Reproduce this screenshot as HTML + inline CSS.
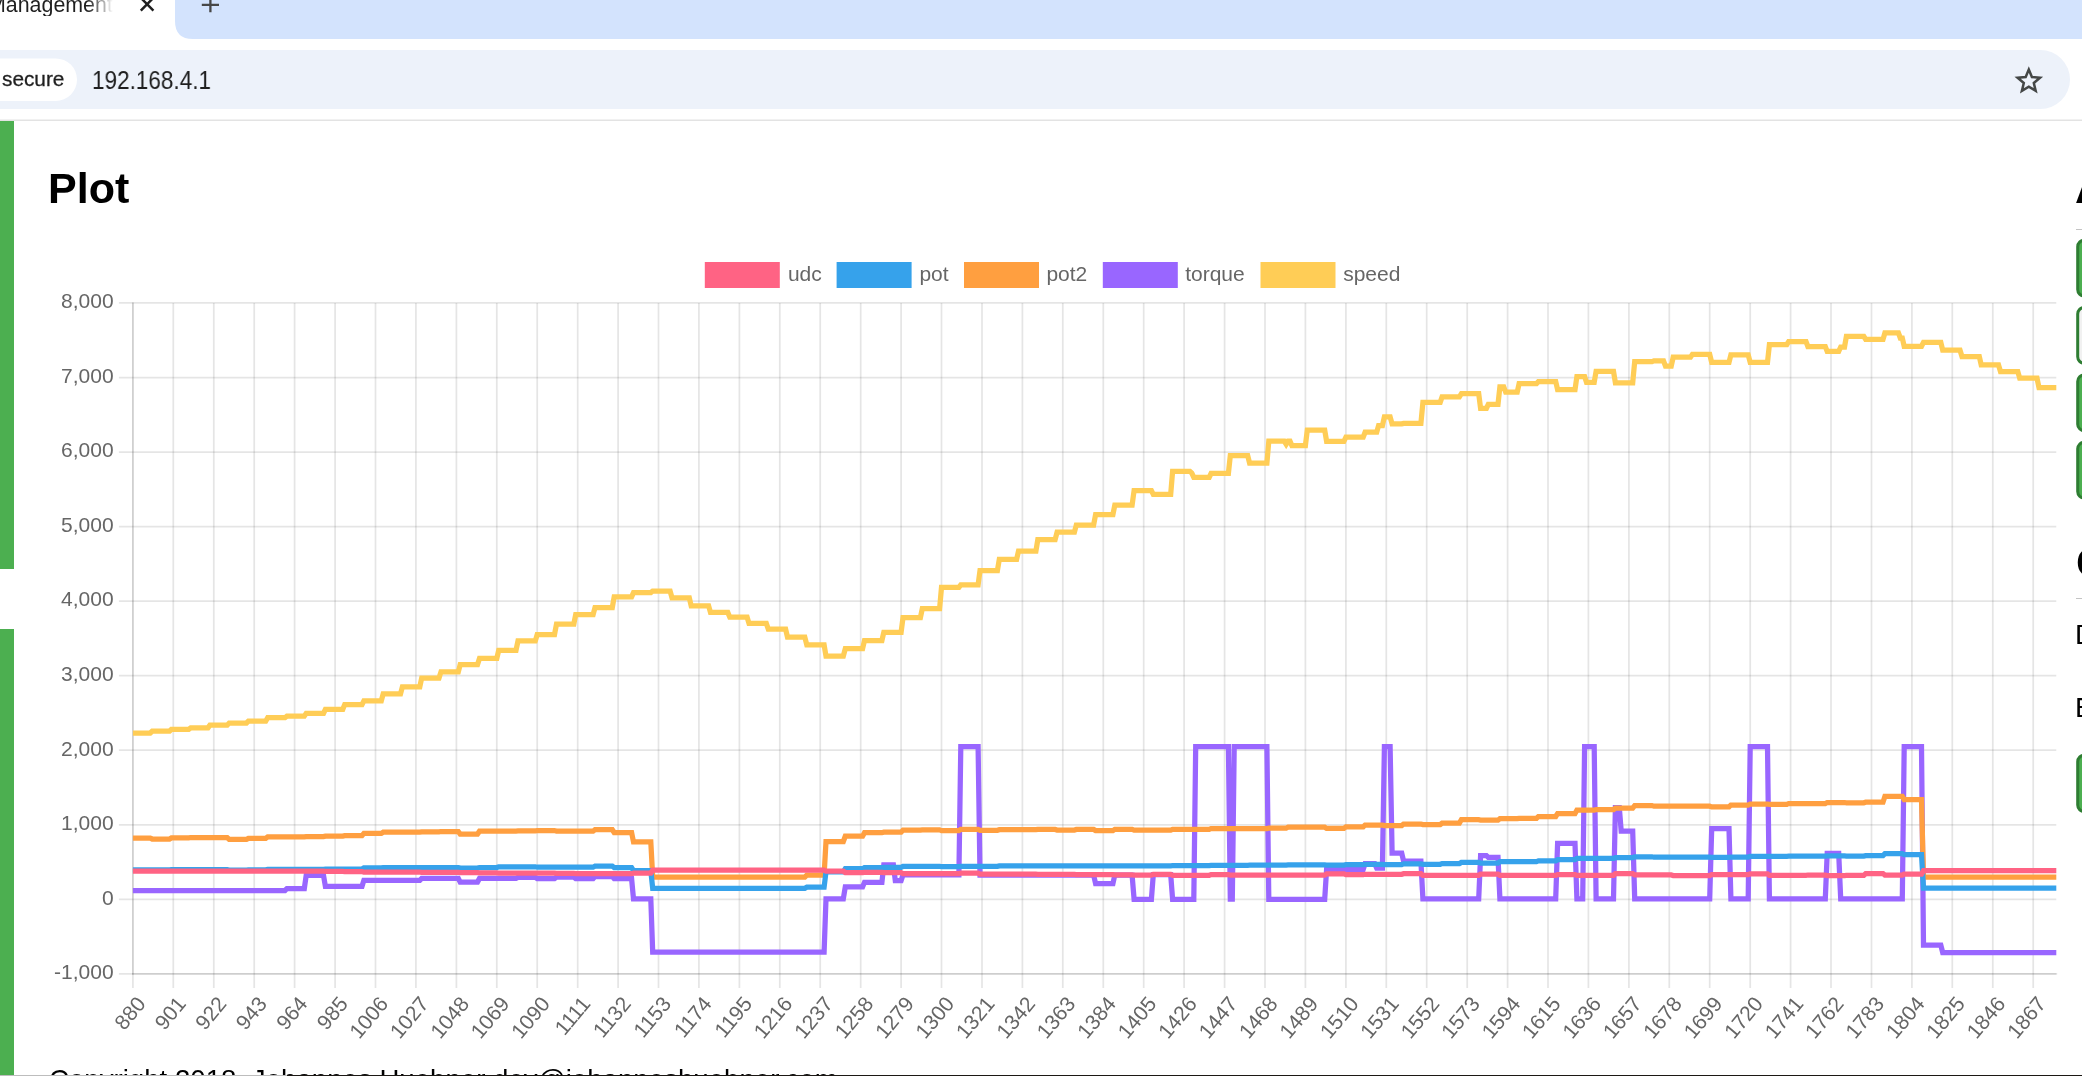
<!DOCTYPE html>
<html><head><meta charset="utf-8"><title>Management</title>
<style>
html,body{margin:0;padding:0}
body{width:2082px;height:1076px;overflow:hidden;position:relative;background:#fff;font-family:"Liberation Sans",sans-serif;color:#000}
.abs{position:absolute}
.t{position:absolute;white-space:nowrap;line-height:1;will-change:transform}
.btn{position:absolute;left:2076.2px;width:40px;border:3px solid #2e7d32;border-radius:9px;background:#4caf50;box-sizing:border-box}
</style></head>
<body>
<!-- browser chrome -->
<svg class="abs" style="left:0;top:0" width="2082" height="121" viewBox="0 0 2082 121">
<path d="M175,0 V21 Q175,39 193,39 H2082 V0 Z" fill="#d3e3fd"/>
<rect x="-60" y="50" width="2130" height="59" rx="29.5" fill="#edf2fa"/>
<rect x="-60" y="58.4" width="137" height="42.5" rx="21.25" fill="#fff"/>
<path d="M140.8,-2.2 L153.4,10.6 M153.4,-2.2 L140.8,10.6" stroke="#1f1f1f" stroke-width="2.5" fill="none"/>
<path d="M201.8,4.8 H219 M210.4,-4 V12.3" stroke="#474747" stroke-width="2.3" fill="none"/>
<path d="M2028.8,69.6 L2031.9,77.1 L2040.0,77.7 L2033.8,83.0 L2035.7,90.9 L2028.8,86.6 L2021.9,90.9 L2023.8,83.0 L2017.6,77.7 L2025.7,77.1 Z" stroke="#444746" stroke-width="2.5" fill="none" stroke-linejoin="miter"/>
<rect x="0" y="119.6" width="2082" height="1.2" fill="#dcdcdc"/>
</svg>
<div class="t" style="left:-12.3px;top:-4.9px;font-size:21.4px;color:#1f1f1f;width:125px;overflow:hidden;-webkit-mask-image:linear-gradient(90deg,#000 80%,transparent 100%);mask-image:linear-gradient(90deg,#000 80%,transparent 100%)">Management</div>
<div class="t" style="left:1.8px;top:68.6px;font-size:20.8px;color:#1f1f1f;-webkit-text-stroke:0.3px #1f1f1f">secure</div>
<div class="t" style="left:92.4px;top:67.3px;font-size:26.5px;color:#1f1f1f;transform:scaleX(0.85);transform-origin:0 0">192.168.4.1</div>

<!-- page -->
<div class="abs" style="left:0;top:120.6px;width:14px;height:448.2px;background:#4caf50"></div>
<div class="abs" style="left:0;top:629px;width:14px;height:446px;background:#4caf50"></div>
<div class="t" style="left:48.4px;top:167.2px;font-size:43px;font-weight:bold">Plot</div>

<!-- right column (cut off) -->
<div class="t" style="left:2075.2px;top:167.2px;font-size:43px;font-weight:bold">Actions</div>
<div class="abs" style="left:2076px;top:228.7px;width:10px;height:1.2px;background:#c4c4c4"></div>
<div class="t" style="left:2076.2px;top:540.8px;font-size:43px;font-weight:bold">Commands</div>
<div class="abs" style="left:2076px;top:597.9px;width:10px;height:1.2px;background:#c4c4c4"></div>
<div class="t" style="left:2075.0px;top:621.1px;font-size:28px">Display</div>
<div class="t" style="left:2075.0px;top:693.8px;font-size:28px">Error</div>

<svg width="2082" height="1076" viewBox="0 0 2082 1076" style="position:absolute;left:0;top:0;will-change:transform" font-family="Liberation Sans, sans-serif">
<g stroke="rgba(0,0,0,0.1)" stroke-width="1.75" fill="none"><path d="M118.9,302.9 H2056.3"/><path d="M118.9,377.5 H2056.3"/><path d="M118.9,452 H2056.3"/><path d="M118.9,526.6 H2056.3"/><path d="M118.9,601.1 H2056.3"/><path d="M118.9,675.7 H2056.3"/><path d="M118.9,750.2 H2056.3"/><path d="M118.9,824.8 H2056.3"/><path d="M118.9,899.3 H2056.3"/><path d="M118.9,973.9 H2056.3"/><path d="M132.9,302.9 V987.9"/><path d="M173.3,302.9 V987.9"/><path d="M213.8,302.9 V987.9"/><path d="M254.2,302.9 V987.9"/><path d="M294.6,302.9 V987.9"/><path d="M335.1,302.9 V987.9"/><path d="M375.5,302.9 V987.9"/><path d="M415.9,302.9 V987.9"/><path d="M456.4,302.9 V987.9"/><path d="M496.8,302.9 V987.9"/><path d="M537.2,302.9 V987.9"/><path d="M577.7,302.9 V987.9"/><path d="M618.1,302.9 V987.9"/><path d="M658.5,302.9 V987.9"/><path d="M698.9,302.9 V987.9"/><path d="M739.4,302.9 V987.9"/><path d="M779.8,302.9 V987.9"/><path d="M820.2,302.9 V987.9"/><path d="M860.7,302.9 V987.9"/><path d="M901.1,302.9 V987.9"/><path d="M941.5,302.9 V987.9"/><path d="M982,302.9 V987.9"/><path d="M1022.4,302.9 V987.9"/><path d="M1062.8,302.9 V987.9"/><path d="M1103.3,302.9 V987.9"/><path d="M1143.7,302.9 V987.9"/><path d="M1184.1,302.9 V987.9"/><path d="M1224.6,302.9 V987.9"/><path d="M1265,302.9 V987.9"/><path d="M1305.4,302.9 V987.9"/><path d="M1345.9,302.9 V987.9"/><path d="M1386.3,302.9 V987.9"/><path d="M1426.7,302.9 V987.9"/><path d="M1467.2,302.9 V987.9"/><path d="M1507.6,302.9 V987.9"/><path d="M1548,302.9 V987.9"/><path d="M1588.4,302.9 V987.9"/><path d="M1628.9,302.9 V987.9"/><path d="M1669.3,302.9 V987.9"/><path d="M1709.7,302.9 V987.9"/><path d="M1750.2,302.9 V987.9"/><path d="M1790.6,302.9 V987.9"/><path d="M1831,302.9 V987.9"/><path d="M1871.5,302.9 V987.9"/><path d="M1911.9,302.9 V987.9"/><path d="M1952.3,302.9 V987.9"/><path d="M1992.8,302.9 V987.9"/><path d="M2033.2,302.9 V987.9"/><path d="M132.9,302 V974.8"/><path d="M132,973.9 H2057.2"/></g>
<g>
<polyline points="132.9,733 150.2,733 152.2,731.2 169.5,731.2 171.4,729.3 188.7,729.3 190.7,727.8 208,727.8 209.9,725.2 227.2,725.2 229.2,723 246.5,723 248.4,721.2 265.7,721.2 267.7,717.7 285,717.7 286.9,716.2 304.3,716.2 306.2,713.4 323.5,713.4 325.4,709.3 342.8,709.3 344.7,704.6 362,704.6 363.9,700.8 381.3,700.8 383.2,693.9 400.5,693.9 402.4,686.8 419.8,686.8 421.7,678 439,678 441,671.8 458.3,671.8 460.2,664.5 477.5,664.5 479.5,658.4 496.8,658.4 498.7,650.3 516,650.3 518,640.9 535.3,640.9 537.2,634.6 554.5,634.6 556.5,624.1 573.8,624.1 575.7,614.7 593.1,614.7 595,607.5 612.3,607.5 614.2,596.9 631.6,596.9 633.5,592.6 650.8,592.6 652.7,591 670.1,591 672,597.8 689.3,597.8 691.2,605.8 708.6,605.8 710.5,612.4 727.8,612.4 729.8,617.2 747.1,617.2 749,623.4 766.3,623.4 768.3,629.1 785.6,629.1 787.5,637.2 804.8,637.2 806.8,644.9 824.1,644.9 826,656.2 843.3,656.2 845.3,648.7 862.6,648.7 864.5,640.5 881.9,640.5 883.8,632.4 901.1,632.4 903,617.6 920.4,617.6 922.3,608.7 939.6,608.7 941.5,587.4 958.9,587.4 960.8,584.9 978.1,584.9 980,570.6 997.4,570.6 999.3,559.3 1016.6,559.3 1018.5,551.2 1035.9,551.2 1037.8,539.7 1055.1,539.7 1057.1,532.1 1074.4,532.1 1076.3,525 1093.6,525 1095.6,514.5 1112.9,514.5 1114.8,505.2 1132.1,505.2 1134.1,490.5 1151.4,490.5 1153.3,494.3 1170.7,494.3 1172.6,471.4 1189.9,471.4 1191.8,473.1 1191.8,473.1 1193.8,477.4 1209.2,477.4 1211.1,473.4 1228.4,473.4 1230.3,455.6 1247.7,455.6 1249.6,463.1 1266.9,463.1 1268.8,441 1284.2,441 1286.2,444.2 1286.2,444.2 1288.1,441.2 1290,441.2 1291.9,445.6 1305.4,445.6 1307.3,430 1324.7,430 1326.6,441.3 1343.9,441.3 1345.9,437.2 1363.2,437.2 1365.1,432.2 1376.7,432.2 1378.6,425.5 1382.4,425.5 1384.4,416.8 1390.1,416.8 1392.1,423.9 1401.7,423.9 1403.6,423.4 1420.9,423.4 1422.9,402.4 1440.2,402.4 1442.1,396.8 1459.4,396.8 1461.4,393.7 1478.7,393.7 1480.6,408.4 1486.4,408.4 1488.3,404.3 1498,404.3 1499.9,386.8 1503.7,386.8 1505.7,392.2 1517.2,392.2 1519.1,383.7 1536.5,383.7 1538.4,381.5 1555.7,381.5 1557.6,389.7 1575,389.7 1576.9,376.5 1584.6,376.5 1586.5,382.3 1594.2,382.3 1596.1,371.4 1613.5,371.4 1615.4,382.8 1632.7,382.8 1634.7,361.6 1652,361.6 1653.9,360.9 1663.5,360.9 1665.5,366.2 1671.2,366.2 1673.2,357.1 1690.5,357.1 1692.4,354.3 1709.7,354.3 1711.7,362.4 1729,362.4 1730.9,354.9 1748.2,354.9 1750.2,362.4 1767.5,362.4 1769.4,344.7 1786.8,344.7 1788.7,341.5 1806,341.5 1807.9,346.5 1825.3,346.5 1827.2,351.4 1838.7,351.4 1840.7,347 1844.5,347 1846.4,336.3 1863.8,336.3 1865.7,339.4 1883,339.4 1884.9,332.9 1898.4,332.9 1900.3,338 1902.3,338 1904.2,346.3 1921.5,346.3 1923.5,342.4 1940.8,342.4 1942.7,350.1 1960,350.1 1962,356.5 1979.3,356.5 1981.2,364.9 1998.5,364.9 2000.5,371.5 2017.8,371.5 2019.7,378.2 2037,378.2 2039,387.6 2056.3,387.6" fill="none" stroke="#ffcd56" stroke-width="5.25" stroke-linejoin="miter" stroke-miterlimit="10" stroke-linecap="butt"/>
<polyline points="132.9,890.5 285,890.5 286.9,888.7 304.3,888.7 306.2,875.3 323.5,875.3 325.4,886.4 362,886.4 363.9,880.3 419.8,880.3 421.7,878.4 458.3,878.4 460.2,882.1 477.5,882.1 479.5,878.4 516,878.4 518,877.4 535.3,877.4 537.2,878.7 554.5,878.7 556.5,877.2 573.8,877.2 575.7,878.7 593.1,878.7 595,876.5 612.3,876.5 614.2,878.7 631.6,878.7 633.5,898.9 650.8,898.9 652.7,952.1 824.1,952.1 826,898.9 843.3,898.9 845.3,886.8 862.6,886.8 864.5,882.3 881.9,882.3 883.8,864.9 893.4,864.9 895.3,880.6 901.1,880.6 903,874.9 958.9,874.9 960.8,746.5 978.1,746.5 980,875 1093.6,875 1095.6,883.7 1112.9,883.7 1114.8,875 1132.1,875 1134.1,899.3 1151.4,899.3 1153.3,874.5 1170.7,874.5 1172.6,899.3 1193.8,899.3 1195.7,746.5 1228.4,746.5 1230.3,899 1232.3,899 1234.2,746.5 1266.9,746.5 1268.8,899.3 1324.7,899.3 1326.6,869.3 1363.2,869.3 1365.1,863.6 1374.7,863.6 1376.7,868.1 1382.4,868.1 1384.4,746.5 1390.1,746.5 1392.1,853.1 1401.7,853.1 1403.6,861.2 1420.9,861.2 1422.9,898.9 1478.7,898.9 1480.6,855.6 1486.4,855.6 1488.3,857.4 1498,857.4 1499.9,898.9 1555.7,898.9 1557.6,843.3 1575,843.3 1576.9,898.9 1582.7,898.9 1584.6,746.5 1594.2,746.5 1596.1,898.9 1613.5,898.9 1615.4,807.5 1619.3,807.5 1621.2,831.2 1632.7,831.2 1634.7,898.9 1709.7,898.9 1711.7,828.7 1729,828.7 1730.9,898.9 1748.2,898.9 1750.2,746.5 1767.5,746.5 1769.4,898.9 1825.3,898.9 1827.2,853.4 1838.7,853.4 1840.7,898.9 1902.3,898.9 1904.2,746.5 1921.5,746.5 1923.5,945.1 1940.8,945.1 1942.7,952.5 2056.3,952.5" fill="none" stroke="#9966ff" stroke-width="5.25" stroke-linejoin="miter" stroke-miterlimit="10" stroke-linecap="butt"/>
<polyline points="132.9,838.1 150.2,838.1 152.2,839 169.5,839 171.4,837.9 188.7,837.9 190.7,837.5 227.2,837.5 229.2,839.4 246.5,839.4 248.4,838.4 265.7,838.4 267.7,836.9 304.3,836.9 306.2,836.6 323.5,836.6 325.4,836.1 342.8,836.1 344.7,835.6 362,835.6 363.9,833.4 381.3,833.4 383.2,832.2 419.8,832.2 421.7,831.9 439,831.9 441,831.5 458.3,831.5 460.2,834.1 477.5,834.1 479.5,831.2 496.8,831.2 498.7,831 516,831 518,830.8 535.3,830.8 537.2,830.6 554.5,830.6 556.5,831.2 593.1,831.2 595,829.7 612.3,829.7 614.2,832.5 631.6,832.5 633.5,841.9 650.8,841.9 652.7,877.2 804.8,877.2 806.8,875.2 824.1,875.2 826,841.5 843.3,841.5 845.3,836.2 862.6,836.2 864.5,832.7 881.9,832.7 883.8,832.2 901.1,832.2 903,830.2 920.4,830.2 922.3,829.9 939.6,829.9 941.5,830.6 958.9,830.6 960.8,829.4 978.1,829.4 980,830.3 997.4,830.3 999.3,829.7 1035.9,829.7 1037.8,829.4 1055.1,829.4 1057.1,830 1074.4,830 1076.3,829.4 1093.6,829.4 1095.6,830.6 1112.9,830.6 1114.8,829.4 1132.1,829.4 1134.1,830.2 1170.7,830.2 1172.6,829.4 1209.2,829.4 1211.1,828.5 1228.4,828.5 1230.3,828.7 1266.9,828.7 1268.8,828.1 1286.2,828.1 1288.1,827.2 1324.7,827.2 1326.6,828.4 1343.9,828.4 1345.9,826.9 1363.2,826.9 1365.1,825 1382.4,825 1384.4,825.6 1401.7,825.6 1403.6,824 1420.9,824 1422.9,824.6 1440.2,824.6 1442.1,823.1 1459.4,823.1 1461.4,819.7 1478.7,819.7 1480.6,820.2 1498,820.2 1499.9,818.7 1517.2,818.7 1519.1,818.4 1536.5,818.4 1538.4,816.5 1555.7,816.5 1557.6,813.5 1575,813.5 1576.9,810.2 1594.2,810.2 1596.1,809.6 1613.5,809.6 1615.4,808.1 1632.7,808.1 1634.7,805.6 1652,805.6 1653.9,806.2 1709.7,806.2 1711.7,806.9 1729,806.9 1730.9,805 1748.2,805 1750.2,804 1767.5,804 1769.4,804.4 1786.8,804.4 1788.7,803.5 1825.3,803.5 1827.2,802.5 1844.5,802.5 1846.4,802.8 1863.8,802.8 1865.7,802.2 1883,802.2 1884.9,796.4 1902.3,796.4 1904.2,799.5 1921.5,799.5 1923.5,877.2 2056.3,877.2" fill="none" stroke="#ff9f40" stroke-width="5.25" stroke-linejoin="miter" stroke-miterlimit="10" stroke-linecap="butt"/>
<polyline points="132.9,869.8 150.2,869.8 152.2,869.9 169.5,869.9 171.4,869.7 227.2,869.7 229.2,870 246.5,870 248.4,869.8 265.7,869.8 267.7,869.4 304.3,869.4 306.2,869.3 323.5,869.3 325.4,869.2 342.8,869.2 344.7,869 362,869 363.9,867.8 381.3,867.8 383.2,867.5 458.3,867.5 460.2,868.1 477.5,868.1 479.5,867.5 496.8,867.5 498.7,866.8 535.3,866.8 537.2,867.2 593.1,867.2 595,866.2 612.3,866.2 614.2,867.6 631.6,867.6 633.5,870.6 650.8,870.6 652.7,888.3 804.8,888.3 806.8,887.2 824.1,887.2 826,871.8 843.3,871.8 845.3,868.7 862.6,868.7 864.5,867.5 881.9,867.5 883.8,867.4 901.1,867.4 903,866.4 939.6,866.4 941.5,866.5 958.9,866.5 960.8,866.3 978.1,866.3 980,866.4 997.4,866.4 999.3,865.9 1074.4,865.9 1076.3,865.8 1093.6,865.8 1095.6,865.9 1112.9,865.9 1114.8,865.8 1132.1,865.8 1134.1,865.9 1151.4,865.9 1153.3,865.8 1170.7,865.8 1172.6,865.6 1209.2,865.6 1211.1,865.3 1247.7,865.3 1249.6,865.2 1266.9,865.2 1268.8,865 1286.2,865 1288.1,864.8 1324.7,864.8 1326.6,865 1343.9,865 1345.9,864.6 1363.2,864.6 1365.1,864.3 1382.4,864.3 1384.4,864.6 1401.7,864.6 1403.6,863.9 1420.9,863.9 1422.9,864.3 1440.2,864.3 1442.1,863.6 1459.4,863.6 1461.4,862.4 1478.7,862.4 1480.6,863 1498,863 1499.9,861.6 1536.5,861.6 1538.4,860.9 1555.7,860.9 1557.6,859.7 1575,859.7 1576.9,858.4 1613.5,858.4 1615.4,857.7 1632.7,857.7 1634.7,856.8 1652,856.8 1653.9,857.2 1709.7,857.2 1711.7,857.3 1729,857.3 1730.9,857 1748.2,857 1750.2,856.4 1786.8,856.4 1788.7,856.2 1825.3,856.2 1827.2,855.9 1844.5,855.9 1846.4,856.1 1863.8,856.1 1865.7,855.6 1883,855.6 1884.9,853.7 1902.3,853.7 1904.2,854.7 1921.5,854.7 1923.5,888.1 2056.3,888.1" fill="none" stroke="#36a2eb" stroke-width="5.25" stroke-linejoin="miter" stroke-miterlimit="10" stroke-linecap="butt"/>
<polyline points="132.9,871.2 323.5,871.2 325.4,871.3 342.8,871.3 344.7,871.5 362,871.5 363.9,872.2 419.8,872.2 421.7,872.3 439,872.3 441,872.4 458.3,872.4 460.2,872.6 477.5,872.6 479.5,872.8 496.8,872.8 498.7,873 516,873 518,873.1 535.3,873.1 537.2,873.2 554.5,873.2 556.5,873.4 573.8,873.4 575.7,873.5 593.1,873.5 595,873.6 612.3,873.6 614.2,873.7 631.6,873.7 633.5,873.2 650.8,873.2 652.7,870.2 824.1,870.2 826,871.2 843.3,871.2 845.3,872.5 862.6,872.5 864.5,872.3 881.9,872.3 883.8,872.5 901.1,872.5 903,873.7 958.9,873.7 960.8,873.1 978.1,873.1 980,874.1 1016.6,874.1 1018.5,874.2 1035.9,874.2 1037.8,874.3 1055.1,874.3 1057.1,874.4 1074.4,874.4 1076.3,874.5 1093.6,874.5 1095.6,874.6 1112.9,874.6 1114.8,874.8 1132.1,874.8 1134.1,875.2 1151.4,875.2 1153.3,874.3 1170.7,874.3 1172.6,875.3 1209.2,875.3 1211.1,874.6 1228.4,874.6 1230.3,875.2 1324.7,875.2 1326.6,873.9 1343.9,873.9 1345.9,874.7 1363.2,874.7 1365.1,874.3 1401.7,874.3 1403.6,873.7 1420.9,873.7 1422.9,875.3 1478.7,875.3 1480.6,874.1 1498,874.1 1499.9,875.3 1555.7,875.3 1557.6,874.5 1575,874.5 1576.9,875.3 1613.5,875.3 1615.4,873.7 1632.7,873.7 1634.7,874.9 1671.2,874.9 1673.2,875.5 1709.7,875.5 1711.7,874.5 1748.2,874.5 1750.2,873.9 1767.5,873.9 1769.4,875.3 1806,875.3 1807.9,875 1825.3,875 1827.2,875.5 1844.5,875.5 1846.4,875.3 1863.8,875.3 1865.7,873.5 1883,873.5 1884.9,875.1 1902.3,875.1 1904.2,874 1921.5,874 1923.5,870.6 2056.3,870.6" fill="none" stroke="#ff6384" stroke-width="5.25" stroke-linejoin="miter" stroke-miterlimit="10" stroke-linecap="butt"/>
</g>
<rect x="704.8" y="262" width="75" height="26" fill="#ff6384"/>
<text x="787.9" y="280.7" font-size="21" fill="#666">udc</text>
<rect x="836.6" y="262" width="75" height="26" fill="#36a2eb"/>
<text x="919.4" y="280.7" font-size="21" fill="#666">pot</text>
<rect x="964" y="262" width="75" height="26" fill="#ff9f40"/>
<text x="1046.4" y="280.7" font-size="21" fill="#666">pot2</text>
<rect x="1102.8" y="262" width="75" height="26" fill="#9966ff"/>
<text x="1185.2" y="280.7" font-size="21" fill="#666">torque</text>
<rect x="1260.5" y="262" width="75" height="26" fill="#ffcd56"/>
<text x="1343.2" y="280.7" font-size="21" fill="#666">speed</text>
<text x="113.6" y="308.2" font-size="21" fill="#666" text-anchor="end">8,000</text>
<text x="113.6" y="382.8" font-size="21" fill="#666" text-anchor="end">7,000</text>
<text x="113.6" y="457.3" font-size="21" fill="#666" text-anchor="end">6,000</text>
<text x="113.6" y="531.9" font-size="21" fill="#666" text-anchor="end">5,000</text>
<text x="113.6" y="606.4" font-size="21" fill="#666" text-anchor="end">4,000</text>
<text x="113.6" y="681" font-size="21" fill="#666" text-anchor="end">3,000</text>
<text x="113.6" y="755.5" font-size="21" fill="#666" text-anchor="end">2,000</text>
<text x="113.6" y="830.1" font-size="21" fill="#666" text-anchor="end">1,000</text>
<text x="113.6" y="904.6" font-size="21" fill="#666" text-anchor="end">0</text>
<text x="113.6" y="979.2" font-size="21" fill="#666" text-anchor="end">-1,000</text>
<text transform="translate(131.7,991.7) rotate(-50)" x="0" y="19.6" font-size="21" fill="#666" text-anchor="end">880</text>
<text transform="translate(172.1,991.7) rotate(-50)" x="0" y="19.6" font-size="21" fill="#666" text-anchor="end">901</text>
<text transform="translate(212.6,991.7) rotate(-50)" x="0" y="19.6" font-size="21" fill="#666" text-anchor="end">922</text>
<text transform="translate(253,991.7) rotate(-50)" x="0" y="19.6" font-size="21" fill="#666" text-anchor="end">943</text>
<text transform="translate(293.4,991.7) rotate(-50)" x="0" y="19.6" font-size="21" fill="#666" text-anchor="end">964</text>
<text transform="translate(333.9,991.7) rotate(-50)" x="0" y="19.6" font-size="21" fill="#666" text-anchor="end">985</text>
<text transform="translate(374.3,991.7) rotate(-50)" x="0" y="19.6" font-size="21" fill="#666" text-anchor="end">1006</text>
<text transform="translate(414.7,991.7) rotate(-50)" x="0" y="19.6" font-size="21" fill="#666" text-anchor="end">1027</text>
<text transform="translate(455.2,991.7) rotate(-50)" x="0" y="19.6" font-size="21" fill="#666" text-anchor="end">1048</text>
<text transform="translate(495.6,991.7) rotate(-50)" x="0" y="19.6" font-size="21" fill="#666" text-anchor="end">1069</text>
<text transform="translate(536,991.7) rotate(-50)" x="0" y="19.6" font-size="21" fill="#666" text-anchor="end">1090</text>
<text transform="translate(576.5,991.7) rotate(-50)" x="0" y="19.6" font-size="21" fill="#666" text-anchor="end">1111</text>
<text transform="translate(616.9,991.7) rotate(-50)" x="0" y="19.6" font-size="21" fill="#666" text-anchor="end">1132</text>
<text transform="translate(657.3,991.7) rotate(-50)" x="0" y="19.6" font-size="21" fill="#666" text-anchor="end">1153</text>
<text transform="translate(697.7,991.7) rotate(-50)" x="0" y="19.6" font-size="21" fill="#666" text-anchor="end">1174</text>
<text transform="translate(738.2,991.7) rotate(-50)" x="0" y="19.6" font-size="21" fill="#666" text-anchor="end">1195</text>
<text transform="translate(778.6,991.7) rotate(-50)" x="0" y="19.6" font-size="21" fill="#666" text-anchor="end">1216</text>
<text transform="translate(819,991.7) rotate(-50)" x="0" y="19.6" font-size="21" fill="#666" text-anchor="end">1237</text>
<text transform="translate(859.5,991.7) rotate(-50)" x="0" y="19.6" font-size="21" fill="#666" text-anchor="end">1258</text>
<text transform="translate(899.9,991.7) rotate(-50)" x="0" y="19.6" font-size="21" fill="#666" text-anchor="end">1279</text>
<text transform="translate(940.3,991.7) rotate(-50)" x="0" y="19.6" font-size="21" fill="#666" text-anchor="end">1300</text>
<text transform="translate(980.8,991.7) rotate(-50)" x="0" y="19.6" font-size="21" fill="#666" text-anchor="end">1321</text>
<text transform="translate(1021.2,991.7) rotate(-50)" x="0" y="19.6" font-size="21" fill="#666" text-anchor="end">1342</text>
<text transform="translate(1061.6,991.7) rotate(-50)" x="0" y="19.6" font-size="21" fill="#666" text-anchor="end">1363</text>
<text transform="translate(1102.1,991.7) rotate(-50)" x="0" y="19.6" font-size="21" fill="#666" text-anchor="end">1384</text>
<text transform="translate(1142.5,991.7) rotate(-50)" x="0" y="19.6" font-size="21" fill="#666" text-anchor="end">1405</text>
<text transform="translate(1182.9,991.7) rotate(-50)" x="0" y="19.6" font-size="21" fill="#666" text-anchor="end">1426</text>
<text transform="translate(1223.4,991.7) rotate(-50)" x="0" y="19.6" font-size="21" fill="#666" text-anchor="end">1447</text>
<text transform="translate(1263.8,991.7) rotate(-50)" x="0" y="19.6" font-size="21" fill="#666" text-anchor="end">1468</text>
<text transform="translate(1304.2,991.7) rotate(-50)" x="0" y="19.6" font-size="21" fill="#666" text-anchor="end">1489</text>
<text transform="translate(1344.7,991.7) rotate(-50)" x="0" y="19.6" font-size="21" fill="#666" text-anchor="end">1510</text>
<text transform="translate(1385.1,991.7) rotate(-50)" x="0" y="19.6" font-size="21" fill="#666" text-anchor="end">1531</text>
<text transform="translate(1425.5,991.7) rotate(-50)" x="0" y="19.6" font-size="21" fill="#666" text-anchor="end">1552</text>
<text transform="translate(1466,991.7) rotate(-50)" x="0" y="19.6" font-size="21" fill="#666" text-anchor="end">1573</text>
<text transform="translate(1506.4,991.7) rotate(-50)" x="0" y="19.6" font-size="21" fill="#666" text-anchor="end">1594</text>
<text transform="translate(1546.8,991.7) rotate(-50)" x="0" y="19.6" font-size="21" fill="#666" text-anchor="end">1615</text>
<text transform="translate(1587.2,991.7) rotate(-50)" x="0" y="19.6" font-size="21" fill="#666" text-anchor="end">1636</text>
<text transform="translate(1627.7,991.7) rotate(-50)" x="0" y="19.6" font-size="21" fill="#666" text-anchor="end">1657</text>
<text transform="translate(1668.1,991.7) rotate(-50)" x="0" y="19.6" font-size="21" fill="#666" text-anchor="end">1678</text>
<text transform="translate(1708.5,991.7) rotate(-50)" x="0" y="19.6" font-size="21" fill="#666" text-anchor="end">1699</text>
<text transform="translate(1749,991.7) rotate(-50)" x="0" y="19.6" font-size="21" fill="#666" text-anchor="end">1720</text>
<text transform="translate(1789.4,991.7) rotate(-50)" x="0" y="19.6" font-size="21" fill="#666" text-anchor="end">1741</text>
<text transform="translate(1829.8,991.7) rotate(-50)" x="0" y="19.6" font-size="21" fill="#666" text-anchor="end">1762</text>
<text transform="translate(1870.3,991.7) rotate(-50)" x="0" y="19.6" font-size="21" fill="#666" text-anchor="end">1783</text>
<text transform="translate(1910.7,991.7) rotate(-50)" x="0" y="19.6" font-size="21" fill="#666" text-anchor="end">1804</text>
<text transform="translate(1951.1,991.7) rotate(-50)" x="0" y="19.6" font-size="21" fill="#666" text-anchor="end">1825</text>
<text transform="translate(1991.6,991.7) rotate(-50)" x="0" y="19.6" font-size="21" fill="#666" text-anchor="end">1846</text>
<text transform="translate(2032,991.7) rotate(-50)" x="0" y="19.6" font-size="21" fill="#666" text-anchor="end">1867</text>
<rect x="2077.7" y="240.2" width="40" height="55.8" rx="6.5" fill="#4caf50" stroke="#2e7d32" stroke-width="3"/>
<rect x="2077.7" y="307.5" width="40" height="55.8" rx="6.5" fill="#f1f1f1" stroke="#2e7d32" stroke-width="3"/>
<rect x="2077.7" y="374.9" width="40" height="55.8" rx="6.5" fill="#4caf50" stroke="#2e7d32" stroke-width="3"/>
<rect x="2077.7" y="442.3" width="40" height="55.8" rx="6.5" fill="#4caf50" stroke="#2e7d32" stroke-width="3"/>
<rect x="2077.7" y="755.2" width="40" height="56.3" rx="6.5" fill="#4caf50" stroke="#2e7d32" stroke-width="3"/>
</svg>

<div class="t" style="left:49.4px;top:1066.1px;font-size:27.65px;line-height:28px">Copyright 2018, Johannes Huebner dev@johanneshuebner.com</div>
<div class="abs" style="left:0;top:1075px;width:2082px;height:1px;background:#bdbdbd"></div>
<div class="abs" style="left:287px;top:1074.6px;width:1795px;height:1.4px;background:#1c1814"></div>
</body></html>
